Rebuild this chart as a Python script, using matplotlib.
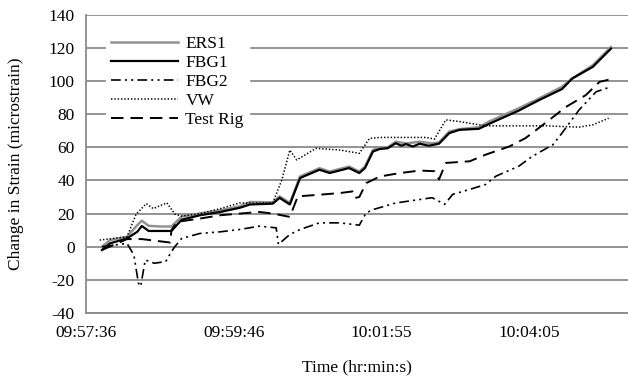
import matplotlib
matplotlib.use("Agg")
import matplotlib.pyplot as plt

plt.rcParams['font.family'] = ['Liberation Serif', 'DejaVu Serif']
plt.rcParams['lines.scale_dashes'] = False
plt.rcParams['axes.unicode_minus'] = False

# time in seconds after 09:57:36
tick_pos = [0, 130, 259, 389]
tick_labels = ['09:57:36', '09:59:46', '10:01:55', '10:04:05']

ers1_t = [14, 21, 36, 45, 49, 55, 65, 75, 84, 100, 118, 135, 144, 164, 170, 179, 188, 205, 214,
          231, 240, 245, 252, 258, 265, 272, 281, 293, 304, 310, 319, 328, 345, 354, 380, 398,
          418, 427, 445, 461]
ers1_v = [0, 4, 6, 13, 15.7, 12.6, 12.2, 12.2, 18.2, 20, 22, 24.4, 27, 26.8, 30.4, 26.4, 42.4, 47.4, 45.4,
          48.4, 45.4, 48.4, 58.4, 60, 60, 63.4, 62.4, 63.4, 62.4, 63, 69.6, 71, 72.2, 75.6, 83.6, 89.6,
          96.6, 101.6, 109.6, 120.6]

fbg1_t = [14, 21, 36, 45, 49, 55, 65, 75, 84, 100, 118, 135, 144, 164, 170, 179, 188, 205, 214,
          231, 240, 245, 252, 258, 265, 272, 277, 281, 287, 293, 301, 310, 319, 328, 345, 354,
          380, 398, 418, 427, 445, 461]
fbg1_v = [-2, 2, 5, 9, 12.5, 9.5, 9.5, 9.5, 16.3, 19, 21, 23.5, 25.5, 26, 29.5, 25.5, 41.5, 46.5, 44.5,
          47.5, 44.5, 47.5, 57.5, 59, 59.5, 62.5, 61, 62, 60.5, 62.2, 61, 62.2, 68.6, 70.6, 71.2, 74.2,
          82.2, 88.6, 95.2, 101.6, 108.6, 119.6]

fbg2_t = [14, 36, 42, 46, 48, 52, 60, 70, 75, 78, 84, 100, 118, 135, 152, 167, 169, 179, 188, 205,
          223, 240, 246, 252, 272, 293, 304, 315, 322, 337, 351, 360, 380, 392, 410, 418, 433, 448, 461]
fbg2_v = [0, 2, -5, -22, -24, -8, -10, -9, -3, 0, 5, 8, 9, 10.4, 12.4, 11.4, 1.4, 7.4, 10.4, 14.4,
          14.4, 13, 20.4, 22.4, 26.4, 28.5, 29.6, 25.6, 31.6, 34.6, 37.6, 42.6, 48.6, 54.6, 61.6, 68.6,
          82.6, 93.6, 96.6]

vw_t = [12, 36, 44, 53, 59, 71, 78, 84, 100, 118, 135, 164, 172, 179, 185, 202, 223, 240, 249, 258,
        299, 306, 316, 328, 351, 404, 433, 445, 459]
vw_v = [4, 6, 19.7, 26, 23, 26.5, 19.7, 18.5, 20, 23, 26.4, 26.4, 40.4, 58.4, 52.4, 59.4, 58.4, 56.4,
        65.4, 66, 66, 65, 76.6, 75.6, 73, 73, 72.2, 73.6, 77.6]

rig_t = [14, 36, 49, 74, 75, 80, 100, 118, 135, 152, 164, 176, 179, 186, 205, 223, 234, 236, 240,
         246, 258, 275, 293, 306, 310, 316, 337, 351, 372, 386, 407, 421, 439, 451, 464]
rig_v = [-2, 4.6, 4.6, 2.5, 10, 15, 17, 19, 20, 21, 20, 18.4, 18, 30.4, 31.4, 32.4, 33.4, 29.4, 30,
         38.4, 42.4, 44.4, 46, 45.6, 40.6, 50.6, 51.6, 55.6, 60.6, 65.6, 76.6, 84.2, 91.6, 99.6, 101.6]

fig = plt.figure(figsize=(6.28, 3.83), dpi=100)
ax = fig.add_axes([0.137, 0.183, 0.863, 0.778])

ax.plot(ers1_t, ers1_v, color='#929292', lw=1.8, label='ERS1', zorder=3)
ax.plot(fbg1_t, fbg1_v, color='black', lw=1.6, label='FBG1', zorder=4)
ax.plot(fbg2_t, fbg2_v, color='black', lw=1.2, dashes=(7, 3, 1.5, 3, 1.5, 3), label='FBG2', zorder=3)
ax.plot(vw_t, vw_v, color='black', lw=1.1, dashes=(1, 1.4), label='VW', zorder=3)
ax.plot(rig_t, rig_v, color='black', lw=1.4, dashes=(9, 5), label='Test Rig', zorder=3)

ax.set_xlim(0, 476)
ax.set_ylim(-40, 140)
ax.set_yticks(range(-40, 141, 20))
ax.set_xticks(tick_pos)
ax.set_xticklabels(tick_labels)
ax.grid(axis='y', color='#8a8a8a', lw=1.3)
ax.set_axisbelow(True)
ax.tick_params(length=0, labelsize=12.5)
ax.tick_params(axis='x', pad=9)
ax.tick_params(axis='y', pad=8)
for s in ['top', 'right']:
    ax.spines[s].set_visible(False)
for s in ['left', 'bottom']:
    ax.spines[s].set_color('#8a8a8a')
    ax.spines[s].set_linewidth(1.3)

ax.set_xlabel('Time (hr:min:s)', fontsize=12.5, labelpad=13)
ax.set_ylabel('Change in Strain (microstrain)', fontsize=12.5, labelpad=18)

leg = ax.legend(loc='upper left', bbox_to_anchor=(0.036, 0.948), fontsize=12.5, frameon=True,
                fancybox=False, handlelength=3.9, handletextpad=0.4, labelspacing=0.17,
                borderpad=0.3, borderaxespad=0)
leg.get_frame().set_edgecolor('white')
leg.get_frame().set_facecolor('white')
leg.get_frame().set_alpha(1)
leg.set_zorder(5)

fig.savefig('out.png', dpi=100)
